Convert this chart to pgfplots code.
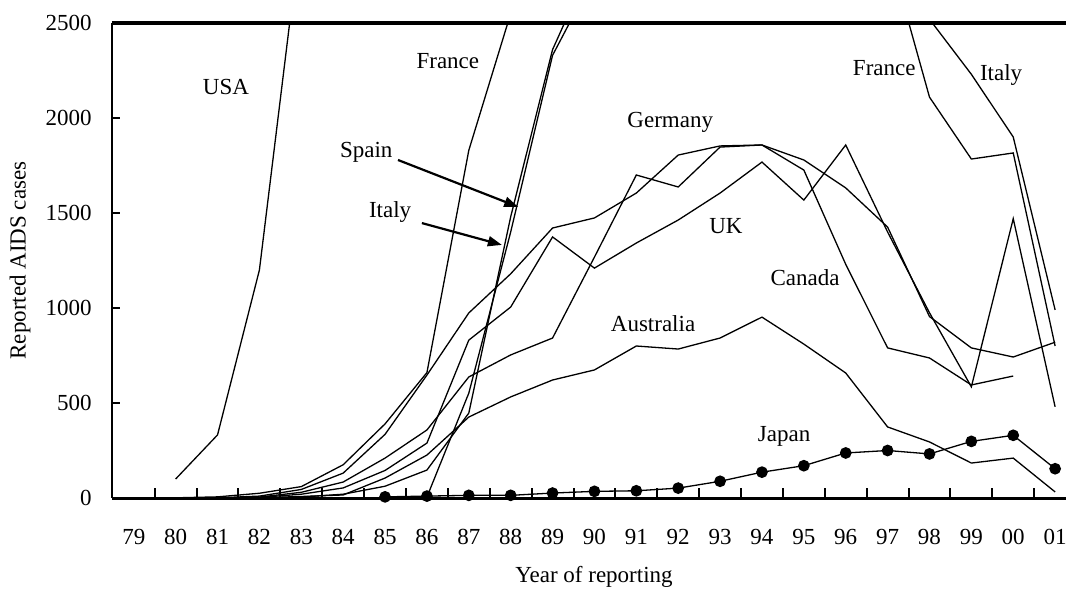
\documentclass[border=0pt]{standalone}
\usepackage{fontspec}
\setmainfont{Liberation Serif}
\usepackage{pgfplots}
\pgfplotsset{compat=1.18}
\usetikzlibrary{arrows.meta}

\pgfplotsset{
  country/.style={black, line width=0.65pt, no markers},
}

\begin{document}
\fontsize{11.5}{13.8}\selectfont
\begin{tikzpicture}
\begin{axis}[
  name=ax,
  scale only axis,
  width=477pt, height=237.5pt,
  xmin=78.48, xmax=101.26,
  ymin=0, ymax=2500,
  clip mode=individual,
  axis x line*=bottom, axis y line*=left,
  axis line style={-},
  x axis line style={line width=1.5pt},
  y axis line style={line width=1.2pt},
  xtick={79,...,101},
  xticklabels={79,80,81,82,83,84,85,86,87,88,89,90,91,92,93,94,95,96,97,98,99,00,01},
  major x tick style={draw=none},
  minor xtick={79.5,80.5,...,100.5},
  ytick={0,500,1000,1500,2000,2500},
  yticklabels={0,500,1000,1500,2000,2500},
  tick align=inside,
  major tick length=4pt, minor tick length=5pt,
  tick style={line width=1pt, black},
  xticklabel style={yshift=-11.7pt},
  yticklabel style={xshift=-6.2pt},
]
% USA
\addplot[country] coordinates {(80,100) (81,332) (82,1200) (83,3000) (84,5000)};
% France
\addplot[country] coordinates {(80,1) (81,6) (82,25) (83,60) (84,175) (85,390) (86,660) (87,1830) (88,2550) (89,3300) (90,3800) (91,4000) (92,4200) (93,4500) (94,4500) (95,4300) (96,3800) (97,2900) (98,2110) (99,1784) (100,1816) (101,800)};
% Italy
\addplot[country] coordinates {(82,1) (83,5) (84,20) (85,62) (86,147) (87,447) (88,1480) (89,2360) (90,2850) (91,3500) (92,4000) (93,4500) (94,4500) (95,4200) (96,4000) (97,3400) (98,2520) (99,2230) (100,1900) (101,990)};
% Spain
\addplot[country] coordinates {(86,5) (87,552) (88,1400) (89,2330) (90,2750) (91,3500) (92,4000) (93,4500) (94,4800) (95,4800) (96,4000) (97,3500) (98,3000) (99,2900) (100,2800) (101,2700)};
% Germany
\addplot[country] coordinates {(81,1) (82,10) (83,45) (84,131) (85,335) (86,647) (87,974) (88,1180) (89,1421) (90,1474) (91,1605) (92,1805) (93,1853) (94,1858) (95,1779) (96,1632) (97,1426) (98,955) (99,790) (100,742) (101,820)};
% Canada
\addplot[country] coordinates {(82,5) (83,30) (84,84) (85,210) (86,358) (87,637) (88,753) (89,842) (90,1268) (91,1700) (92,1637) (93,1847) (94,1858) (95,1726) (96,1230) (97,790) (98,737) (99,595) (100,642)};
% UK
\addplot[country] coordinates {(81,1) (82,3) (83,20) (84,53) (85,145) (86,289) (87,831) (88,1005) (89,1374) (90,1210) (91,1342) (92,1463) (93,1605) (94,1768) (95,1568) (96,1858) (97,1400) (98,975) (99,585) (100,1470) (101,480)};
% Australia
\addplot[country] coordinates {(82,1) (83,8) (84,16) (85,105) (86,226) (87,426) (88,532) (89,621) (90,674) (91,800) (92,784) (93,842) (94,952) (95,810) (96,658) (97,374) (98,295) (99,184) (100,210) (101,32)};
% Japan
\addplot[black, line width=0.65pt, mark=*, mark size=2.6pt] coordinates {(85,6) (86,10) (87,14) (88,14) (89,26) (90,35) (91,38) (92,52) (93,88) (94,136) (95,170) (96,237) (97,250) (98,232) (99,298) (100,330) (101,154)};

% heavy rule along the top of the frame
\draw[line width=2.2pt] (rel axis cs:0,1) -- (rel axis cs:1,1);

% series names
\node at (axis cs:81.20,2163) {USA};
\node at (axis cs:86.50,2300) {France};
\node at (axis cs:84.55,1821) {Spain};
\node at (axis cs:85.12,1505) {Italy};
\node at (axis cs:91.81,1979) {Germany};
\node at (axis cs:93.14,1432) {UK};
\node at (axis cs:96.92,2263) {France};
\node at (axis cs:99.71,2226) {Italy};
\node at (axis cs:95.03,1158) {Canada};
\node at (axis cs:91.40,916) {Australia};
\node at (axis cs:94.53,326) {Japan};

\draw[line width=1.1pt, -{Triangle[length=7pt,width=5pt]}] (axis cs:85.31,1779) -- (axis cs:88.18,1532);
\draw[line width=1.1pt, -{Triangle[length=7pt,width=5pt]}] (axis cs:85.88,1447) -- (axis cs:87.79,1332);
\end{axis}

\node at ([yshift=-39.5pt,xshift=2.5pt]ax.south) {Year of reporting};
\node[rotate=90] at ([xshift=-46pt]ax.west) {Reported AIDS cases};

\pgfresetboundingbox
\path[use as bounding box] ([xshift=-56pt,yshift=-46pt]ax.south west) rectangle ([yshift=11.5pt]ax.north east);
\end{tikzpicture}
\end{document}
